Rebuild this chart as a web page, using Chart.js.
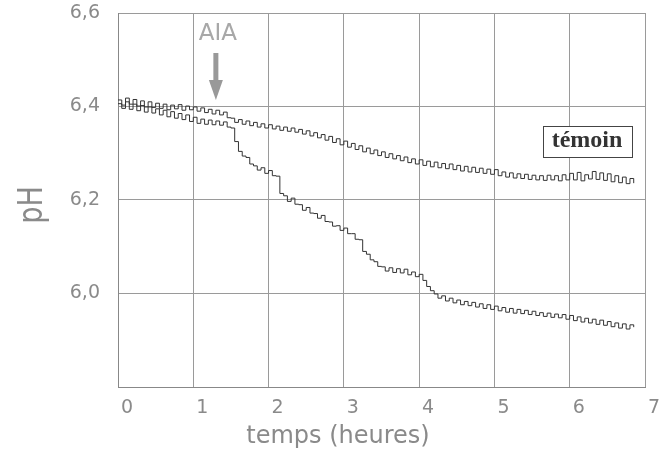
<!DOCTYPE html>
<html lang="fr">
<head>
    <meta charset="UTF-8" />
    <title>pH - AIA</title>
    <script src="https://cdn.jsdelivr.net/npm/chart.js"></script>
    <style>
        html, body { margin: 0; padding: 0; background: #fff; }
        canvas { display: block; }
    </style>
</head>
<body>
    <canvas id="grafico_ph" width="665" height="457"></canvas>
<script>
    // temps (heures)
    const heures = [
        0.00, 0.05, 0.10, 0.15, 0.20, 0.25, 0.30, 0.35, 0.40, 0.45,
        0.50, 0.55, 0.60, 0.65, 0.70, 0.75, 0.80, 0.85, 0.90, 0.95,
        1.00, 1.05, 1.10, 1.15, 1.20, 1.25, 1.30, 1.35, 1.40, 1.45,
        1.50, 1.55, 1.60, 1.65, 1.70, 1.75, 1.80, 1.85, 1.90, 1.95,
        2.00, 2.05, 2.10, 2.15, 2.20, 2.25, 2.30, 2.35, 2.40, 2.45,
        2.50, 2.55, 2.60, 2.65, 2.70, 2.75, 2.80, 2.85, 2.90, 2.95,
        3.00, 3.05, 3.10, 3.15, 3.20, 3.25, 3.30, 3.35, 3.40, 3.45,
        3.50, 3.55, 3.60, 3.65, 3.70, 3.75, 3.80, 3.85, 3.90, 3.95,
        4.00, 4.05, 4.10, 4.15, 4.20, 4.25, 4.30, 4.35, 4.40, 4.45,
        4.50, 4.55, 4.60, 4.65, 4.70, 4.75, 4.80, 4.85, 4.90, 4.95,
        5.00, 5.05, 5.10, 5.15, 5.20, 5.25, 5.30, 5.35, 5.40, 5.45,
        5.50, 5.55, 5.60, 5.65, 5.70, 5.75, 5.80, 5.85, 5.90, 5.95,
        6.00, 6.05, 6.10, 6.15, 6.20, 6.25, 6.30, 6.35, 6.40, 6.45,
        6.50, 6.55, 6.60, 6.65, 6.70, 6.75, 6.80, 6.85
    ];

    // pH témoin
    const phTemoin = [
        6.414, 6.403, 6.418, 6.405, 6.415, 6.401, 6.412, 6.399, 6.410, 6.398,
        6.407, 6.396, 6.405, 6.393, 6.403, 6.395, 6.404, 6.392, 6.401, 6.393,
        6.399, 6.390, 6.397, 6.387, 6.394, 6.384, 6.392, 6.382, 6.388, 6.376,
        6.375, 6.366, 6.372, 6.362, 6.369, 6.359, 6.366, 6.356, 6.363, 6.354,
        6.361, 6.352, 6.358, 6.349, 6.356, 6.347, 6.354, 6.345, 6.351, 6.341,
        6.348, 6.337, 6.344, 6.333, 6.340, 6.328, 6.336, 6.323, 6.331, 6.318,
        6.326, 6.313, 6.321, 6.308, 6.316, 6.303, 6.311, 6.299, 6.307, 6.295,
        6.303, 6.291, 6.299, 6.288, 6.295, 6.284, 6.292, 6.280, 6.288, 6.277,
        6.286, 6.274, 6.283, 6.271, 6.281, 6.269, 6.278, 6.267, 6.277, 6.265,
        6.274, 6.262, 6.272, 6.260, 6.270, 6.259, 6.268, 6.257, 6.266, 6.255,
        6.265, 6.252, 6.260, 6.249, 6.258, 6.247, 6.256, 6.246, 6.255, 6.244,
        6.253, 6.243, 6.252, 6.242, 6.253, 6.243, 6.252, 6.241, 6.254, 6.243,
        6.257, 6.243, 6.259, 6.241, 6.254, 6.245, 6.261, 6.244, 6.258, 6.242,
        6.256, 6.239, 6.252, 6.237, 6.249, 6.235, 6.246, 6.236
    ];

    // pH avec AIA
    const phAIA = [
        6.406, 6.396, 6.410, 6.394, 6.405, 6.391, 6.402, 6.388, 6.399, 6.386,
        6.395, 6.382, 6.392, 6.378, 6.389, 6.375, 6.385, 6.372, 6.382, 6.368,
        6.377, 6.364, 6.373, 6.362, 6.371, 6.361, 6.369, 6.360, 6.367, 6.356,
        6.354, 6.325, 6.304, 6.294, 6.291, 6.277, 6.273, 6.264, 6.269, 6.257,
        6.263, 6.252, 6.251, 6.214, 6.209, 6.197, 6.204, 6.191, 6.190, 6.178,
        6.184, 6.172, 6.171, 6.161, 6.167, 6.154, 6.153, 6.144, 6.145, 6.135,
        6.140, 6.128, 6.128, 6.116, 6.115, 6.090, 6.084, 6.072, 6.068, 6.058,
        6.057, 6.048, 6.055, 6.045, 6.053, 6.044, 6.052, 6.040, 6.046, 6.036,
        6.041, 6.028, 6.015, 6.006, 5.999, 5.990, 5.995, 5.984, 5.990, 5.980,
        5.986, 5.976, 5.983, 5.974, 5.981, 5.971, 5.978, 5.968, 5.976, 5.966,
        5.973, 5.963, 5.970, 5.960, 5.968, 5.958, 5.966, 5.957, 5.964, 5.955,
        5.962, 5.953, 5.959, 5.951, 5.958, 5.949, 5.956, 5.948, 5.955, 5.945,
        5.953, 5.942, 5.950, 5.939, 5.947, 5.937, 5.945, 5.934, 5.943, 5.932,
        5.940, 5.929, 5.937, 5.926, 5.935, 5.924, 5.933, 5.928
    ];

    const ticksX = [0, 1, 2, 3, 4, 5, 6, 7];
    const ticksY = [5.8, 6.0, 6.2, 6.4, 6.6];

    // annotations
    const heureAIA = 1.3;
    const etiquetteTemoin = { x: 6.23, y: 6.326, texte: 'témoin' };

    const cinza = '#8a8a8a';

    function pontos(valores) {
        const lista = [];
        for (let i = 0; i < heures.length; i++) {
            lista.push({ x: heures[i], y: valores[i] });
        }
        return lista;
    }

    const pluginTextos = {
        id: 'textos',
        afterDraw(chart) {
            const ctx = chart.ctx;
            const area = chart.chartArea;
            const sx = chart.scales.x;
            const sy = chart.scales.y;
            ctx.save();

            // titre axe y (police étroite et haute comme l'original)
            ctx.fillStyle = cinza;
            ctx.font = '34px "DejaVu Sans"';
            ctx.textAlign = 'center';
            ctx.textBaseline = 'middle';
            ctx.translate(33, (area.top + area.bottom) / 2 + 5);
            ctx.rotate(-Math.PI / 2);
            ctx.scale(0.8, 1);
            ctx.fillText('pH', 0, 0);
            ctx.setTransform(1, 0, 0, 1, 0, 0);

            // titre axe x
            ctx.font = '24px "DejaVu Sans"';
            ctx.fillText('temps (heures)', 338, 437);

            // AIA + flèche
            const xa = sx.getPixelForValue(heureAIA);
            ctx.fillStyle = '#a8a8a8';
            ctx.font = '23px "DejaVu Sans"';
            ctx.textBaseline = 'alphabetic';
            ctx.fillText('AIA', xa + 2, 40);
            ctx.fillStyle = '#999';
            ctx.fillRect(xa - 2.5, 53, 5, 30);
            ctx.beginPath();
            ctx.moveTo(xa - 7, 80);
            ctx.lineTo(xa + 7, 80);
            ctx.lineTo(xa, 100);
            ctx.closePath();
            ctx.fill();

            // étiquette témoin
            const cx = sx.getPixelForValue(etiquetteTemoin.x);
            const cy = sy.getPixelForValue(etiquetteTemoin.y);
            ctx.font = 'bold 24px "Liberation Serif"';
            ctx.textBaseline = 'middle';
            const w = Math.round(ctx.measureText(etiquetteTemoin.texte).width + 18);
            const bx = Math.round(cx - w / 2) + 0.5;
            const by = Math.round(cy - 15) + 0.5;
            ctx.fillStyle = '#fff';
            ctx.fillRect(bx, by, w, 31);
            ctx.strokeStyle = '#444';
            ctx.lineWidth = 1;
            ctx.strokeRect(bx, by, w, 31);
            ctx.fillStyle = '#333';
            ctx.fillText(etiquetteTemoin.texte, cx, cy);

            ctx.restore();
        }
    };

    const config = {
        type: 'line',
        data: {
            datasets: [{
                label: 'témoin',
                data: pontos(phTemoin),
                borderColor: '#333',
                borderWidth: 1,
                pointRadius: 0,
                stepped: true,
                fill: false
            }, {
                label: 'AIA',
                data: pontos(phAIA),
                borderColor: '#333',
                borderWidth: 1,
                pointRadius: 0,
                stepped: true,
                fill: false
            }]
        },
        options: {
            responsive: false,
            animation: false,
            layout: { padding: { top: 13, right: 20, left: 0, bottom: 0 } },
            plugins: {
                legend: { display: false },
                tooltip: { enabled: false }
            },
            scales: {
                x: {
                    type: 'linear',
                    min: ticksX[0],
                    max: ticksX[ticksX.length - 1],
                    afterBuildTicks(scale) {
                        scale.ticks = ticksX.map(v => ({ value: v }));
                    },
                    afterFit(scale) {
                        scale.height = 70;
                        scale.paddingLeft = 0;
                        scale.paddingRight = 0;
                    },
                    grid: { color: '#9a9a9a', lineWidth: 1, drawTicks: false },
                    border: { color: '#888' },
                    ticks: {
                        color: cinza,
                        font: { family: 'DejaVu Sans', size: 19 },
                        padding: 10,
                        labelOffset: 9,
                        maxRotation: 0,
                        callback: v => String(v)
                    }
                },
                y: {
                    min: ticksY[0],
                    max: ticksY[ticksY.length - 1],
                    afterBuildTicks(scale) {
                        scale.ticks = ticksY.map(v => ({ value: v }));
                    },
                    afterFit(scale) {
                        scale.width = 118;
                        scale.paddingTop = 0;
                        scale.paddingBottom = 0;
                    },
                    grid: { color: '#9a9a9a', lineWidth: 1, drawTicks: false },
                    border: { color: '#888' },
                    ticks: {
                        color: cinza,
                        font: { family: 'DejaVu Sans', size: 19 },
                        padding: 18,
                        callback: v => v < 5.9 ? '' : v.toFixed(1).replace('.', ',')
                    }
                }
            }
        },
        plugins: [pluginTextos]
    };

    const grafico = new Chart(document.getElementById('grafico_ph'), config);
</script>
</body>
</html>
